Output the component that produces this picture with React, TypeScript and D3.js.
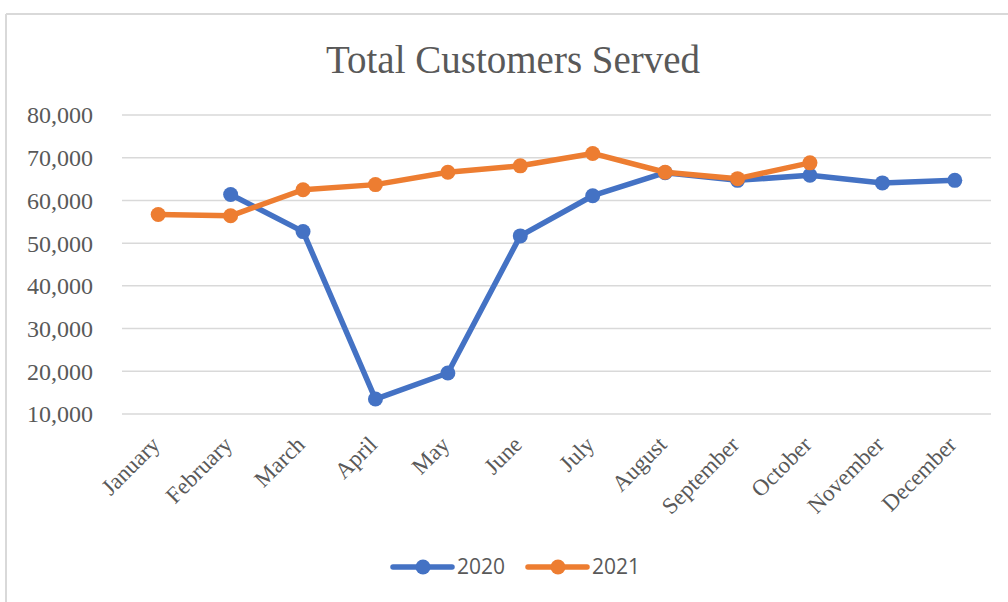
import React from "react";
import * as d3 from "d3";

const months = ["January", "February", "March", "April", "May", "June", "July", "August", "September", "October", "November", "December"];
const values2020 = [null, 61400, 52700, 13500, 19600, 51700, 61100, 66500, 64700, 65900, 64100, 64700];
const values2021 = [56700, 56400, 62500, 63700, 66600, 68100, 71000, 66600, 65100, 68800, null, null];
const yTicks = [10000, 20000, 30000, 40000, 50000, 60000, 70000, 80000];

const series = [
  { name: "2020", values: values2020, color: "#4472C4" },
  { name: "2021", values: values2021, color: "#ED7D31" },
];

const W = 1008;
const H = 602;
const serif = "'Liberation Serif', 'Times New Roman', serif";
const textColor = "#595959";

export default function App() {
  const x = d3.scaleBand().domain(months).range([122, 991]).padding(0);
  const y = d3.scaleLinear().domain([10000, 80000]).range([414, 115]);
  const cx = (m: string) => (x(m) as number) + x.bandwidth() / 2;

  const line = d3
    .line<number | null>()
    .defined((d) => d != null)
    .x((d, i) => cx(months[i]))
    .y((d) => y(d as number));

  const fmt = d3.format(",");

  return (
    <svg width={W} height={H} style={{ position: "absolute", left: 0, top: 0, background: "#fff" }}>
      {/* chart frame */}
      <line x1={6} x2={W} y1={14} y2={14} stroke="#d9d9d9" strokeWidth={2} />
      <line x1={6} x2={6} y1={14} y2={H} stroke="#d9d9d9" strokeWidth={2} />

      <text x={513} y={73} textAnchor="middle" fontFamily={serif} fontSize={39} fill={textColor}>
        Total Customers Served
      </text>

      {/* grid + y labels */}
      {yTicks.map((t) => (
        <g key={t}>
          <line x1={122} x2={991} y1={y(t)} y2={y(t)} stroke="#d9d9d9" strokeWidth={1.5} />
          <text x={93} y={y(t)} dy="0.35em" textAnchor="end" fontFamily={serif} fontSize={24} fill={textColor}>
            {fmt(t)}
          </text>
        </g>
      ))}

      {/* x labels */}
      {months.map((m) => (
        <text
          key={m}
          transform={`translate(${cx(m) + 3},${446}) rotate(-45)`}
          textAnchor="end"
          fontFamily={serif}
          fontSize={23}
          fill={textColor}
        >
          {m}
        </text>
      ))}

      {/* series */}
      {series.map((s) => (
        <g key={s.name}>
          <path d={line(s.values) || ""} fill="none" stroke={s.color} strokeWidth={5.5} strokeLinejoin="round" strokeLinecap="round" />
          {s.values.map((v, i) =>
            v == null ? null : <circle key={i} cx={cx(months[i])} cy={y(v)} r={7.5} fill={s.color} />
          )}
        </g>
      ))}

      {/* legend */}
      {series.map((s, i) => {
        const lx = 393 + i * 135;
        return (
          <g key={s.name}>
            <line x1={lx} x2={lx + 59} y1={567} y2={567} stroke={s.color} strokeWidth={5.5} strokeLinecap="round" />
            <circle cx={lx + 30} cy={567} r={7.5} fill={s.color} />
            <text x={lx + 64} y={567} dy="0.35em" fontFamily="'Open Sans', sans-serif" fontSize={21} fill={textColor}>
              {s.name}
            </text>
          </g>
        );
      })}
    </svg>
  );
}
